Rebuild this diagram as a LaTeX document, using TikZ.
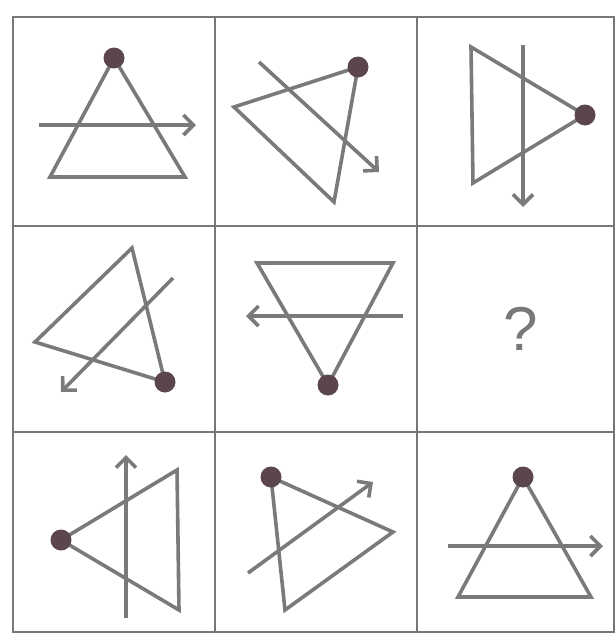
\documentclass[tikz,border=0pt]{standalone}
\usepackage{fontspec}
\setsansfont{Liberation Sans}
\usepackage{tikz}
\usetikzlibrary{arrows.meta}
\definecolor{LineGray}{RGB}{122,122,122}
\definecolor{GridGray}{RGB}{120,120,120}
\definecolor{DotPlum}{RGB}{92,70,78}

\begin{document}
\begin{tikzpicture}[x=1pt, y=-1pt,
    grid/.style={draw=GridGray, line width=2.6pt},
    tri/.style={draw=LineGray, line width=3.6pt, line join=miter},
    pointer/.style={draw=LineGray, line width=3.6pt,
                    -{Straight Barb[length=10pt, width=20pt]}},
    dot/.style={circle, fill=DotPlum, inner sep=0pt, minimum size=21pt}
  ]
  \useasboundingbox (0,0) rectangle (616,635);
  % grid
  \draw[grid] (13,17) rectangle (614,632);
  \draw[grid] (215,17) -- (215,632);
  \draw[grid] (417,17) -- (417,632);
  \draw[grid] (13,226) -- (614,226);
  \draw[grid] (13,432) -- (614,432);

  % row 1
  \coordinate (a1) at (114,58);
  \draw[tri] (a1) -- (50,177) -- (185,177) -- cycle;
  \coordinate (s1) at (39,125);  \coordinate (e1) at (196,125);
  \draw[pointer] (s1) -- (e1);
  \node[dot] (d1) at (a1) {};

  \coordinate (a2) at (358,67);
  \draw[tri] (a2) -- (234,107) -- (334,202) -- cycle;
  \coordinate (s2) at (259,62);  \coordinate (e2) at (379,172);
  \draw[pointer] (s2) -- (e2);
  \node[dot] (d2) at (a2) {};

  \coordinate (a3) at (585,115);
  \draw[tri] (a3) -- (471,47) -- (473,183) -- cycle;
  \coordinate (s3) at (523,45);  \coordinate (e3) at (523,207);
  \draw[pointer] (s3) -- (e3);
  \node[dot] (d3) at (a3) {};

  % row 2
  \coordinate (a4) at (165,382);
  \draw[tri] (a4) -- (132,248) -- (35,342) -- cycle;
  \coordinate (s4) at (173,278); \coordinate (e4) at (61,392);
  \draw[pointer] (s4) -- (e4);
  \node[dot] (d4) at (a4) {};

  \coordinate (a5) at (328,385);
  \draw[tri] (a5) -- (257,263) -- (393,263) -- cycle;
  \coordinate (s5) at (403,316); \coordinate (e5) at (246,316);
  \draw[pointer] (s5) -- (e5);
  \node[dot] (d5) at (a5) {};

  \node[font=\sffamily\fontsize{62}{62}\selectfont, text=GridGray] (q) at (521,329) {?};

  % row 3
  \coordinate (a7) at (61,540);
  \draw[tri] (a7) -- (177,470) -- (179,610) -- cycle;
  \coordinate (s7) at (126,618); \coordinate (e7) at (126,455);
  \draw[pointer] (s7) -- (e7);
  \node[dot] (d7) at (a7) {};

  \coordinate (a8) at (271,477);
  \draw[tri] (a8) -- (393,532) -- (285,610) -- cycle;
  \coordinate (s8) at (248,573); \coordinate (e8) at (373,482);
  \draw[pointer] (s8) -- (e8);
  \node[dot] (d8) at (a8) {};

  \coordinate (a9) at (523,477);
  \draw[tri] (a9) -- (458,597) -- (591,597) -- cycle;
  \coordinate (s9) at (448,546); \coordinate (e9) at (603,546);
  \draw[pointer] (s9) -- (e9);
  \node[dot] (d9) at (a9) {};
\end{tikzpicture}
\end{document}
